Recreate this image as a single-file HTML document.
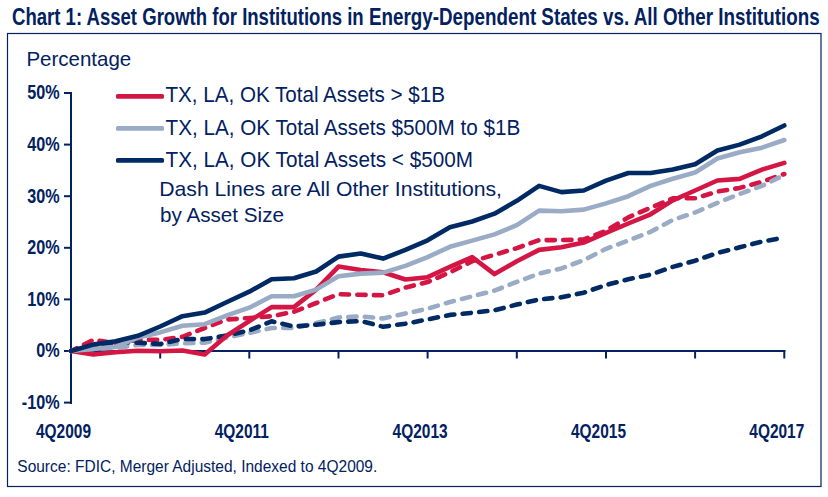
<!DOCTYPE html>
<html><head><meta charset="utf-8">
<style>
html,body{margin:0;padding:0;background:#fff;}
body{width:828px;height:497px;overflow:hidden;position:relative;}
svg{position:absolute;left:0;top:0;}
text{font-family:"Liberation Sans",sans-serif;fill:#022161;}
.cb{font-weight:bold;font-size:20.3px;}
.t{font-weight:bold;font-size:23.6px;}
.r{font-size:21.4px;}
.d{font-size:20.9px;}
.p{font-size:20.8px;}
.s{font-size:15.8px;}
</style></head><body>
<svg width="828" height="497" viewBox="0 0 828 497">
<text x="12" y="25" class="t" textLength="351.7" lengthAdjust="spacingAndGlyphs">Chart 1: Asset Growth for Institutions in</text><text x="369" y="25" class="t" textLength="450.6" lengthAdjust="spacingAndGlyphs">Energy-Dependent States vs. All Other Institutions</text>
<rect x="7.5" y="33.5" width="813.5" height="453" fill="none" stroke="#022161" stroke-width="1.2"/>
<text x="26.4" y="65.6" class="p" textLength="104.8" lengthAdjust="spacingAndGlyphs">Percentage</text>

<g stroke="#022161" stroke-width="2" fill="none">
<line x1="71" y1="92" x2="71" y2="404"/>
<line x1="70" y1="351" x2="785.3" y2="351"/>
<line x1="160.2" y1="350" x2="160.2" y2="358.5"/><line x1="249.3" y1="350" x2="249.3" y2="358.5"/><line x1="338.5" y1="350" x2="338.5" y2="358.5"/><line x1="427.6" y1="350" x2="427.6" y2="358.5"/><line x1="516.8" y1="350" x2="516.8" y2="358.5"/><line x1="606.0" y1="350" x2="606.0" y2="358.5"/><line x1="695.1" y1="350" x2="695.1" y2="358.5"/><line x1="784.3" y1="350" x2="784.3" y2="358.5"/><line x1="64" y1="402.6" x2="72" y2="402.6"/><line x1="64" y1="351.0" x2="72" y2="351.0"/><line x1="64" y1="299.4" x2="72" y2="299.4"/><line x1="64" y1="247.8" x2="72" y2="247.8"/><line x1="64" y1="196.2" x2="72" y2="196.2"/><line x1="64" y1="144.6" x2="72" y2="144.6"/><line x1="64" y1="93.0" x2="72" y2="93.0"/>
</g>
<text x="59.6" y="409.1" text-anchor="end" class="cb" transform="translate(59.6 0) scale(0.797 1) translate(-59.6 0)">-10%</text><text x="59.6" y="357.5" text-anchor="end" class="cb" transform="translate(59.6 0) scale(0.797 1) translate(-59.6 0)">0%</text><text x="59.6" y="305.9" text-anchor="end" class="cb" transform="translate(59.6 0) scale(0.797 1) translate(-59.6 0)">10%</text><text x="59.6" y="254.3" text-anchor="end" class="cb" transform="translate(59.6 0) scale(0.797 1) translate(-59.6 0)">20%</text><text x="59.6" y="202.7" text-anchor="end" class="cb" transform="translate(59.6 0) scale(0.797 1) translate(-59.6 0)">30%</text><text x="59.6" y="151.1" text-anchor="end" class="cb" transform="translate(59.6 0) scale(0.797 1) translate(-59.6 0)">40%</text><text x="59.6" y="99.5" text-anchor="end" class="cb" transform="translate(59.6 0) scale(0.797 1) translate(-59.6 0)">50%</text>
<text x="63.5" y="437.8" text-anchor="middle" class="cb" transform="translate(63.5 0) scale(0.762 1) translate(-63.5 0)">4Q2009</text><text x="241.8" y="437.8" text-anchor="middle" class="cb" transform="translate(241.8 0) scale(0.762 1) translate(-241.8 0)">4Q2011</text><text x="420.1" y="437.8" text-anchor="middle" class="cb" transform="translate(420.1 0) scale(0.762 1) translate(-420.1 0)">4Q2013</text><text x="598.5" y="437.8" text-anchor="middle" class="cb" transform="translate(598.5 0) scale(0.762 1) translate(-598.5 0)">4Q2015</text><text x="776.8" y="437.8" text-anchor="middle" class="cb" transform="translate(776.8 0) scale(0.762 1) translate(-776.8 0)">4Q2017</text>

<g fill="none" stroke-width="4.6" stroke-linejoin="round" stroke-linecap="round">
<polyline points="71.0,351.0 93.3,339.9 115.6,343.3 137.9,339.9 160.2,339.9 182.5,336.8 204.7,328.0 227.0,319.5 249.3,318.0 271.6,316.2 293.9,311.8 316.2,303.0 338.5,294.2 360.8,294.8 383.1,295.3 405.4,287.5 427.6,282.1 449.9,272.3 472.2,261.2 494.5,254.8 516.8,248.1 539.1,240.1 561.4,240.1 583.7,239.5 606.0,230.8 628.3,217.4 650.6,207.6 672.8,198.3 695.1,198.3 717.4,191.6 739.7,187.9 762.0,181.8 784.3,174.0" stroke="#d41644" stroke-dasharray="8.3 8.3" stroke-dashoffset="2"/>
<polyline points="71.0,351.0 93.3,348.9 115.6,347.9 137.9,345.0 160.2,345.0 182.5,343.3 204.7,342.7 227.0,337.6 249.3,332.9 271.6,328.0 293.9,328.0 316.2,323.1 338.5,317.5 360.8,316.4 383.1,318.5 405.4,313.5 427.6,308.7 449.9,302.0 472.2,296.3 494.5,290.6 516.8,281.9 539.1,273.6 561.4,268.4 583.7,260.2 606.0,248.8 628.3,240.6 650.6,231.8 672.8,219.9 695.1,212.5 717.4,202.9 739.7,193.9 762.0,185.9 784.3,175.0" stroke="#9aabc6" stroke-dasharray="8.3 8.3" stroke-dashoffset="1.7"/>
<polyline points="71.0,351.0 93.3,346.9 115.6,342.2 137.9,342.7 160.2,344.0 182.5,338.9 204.7,339.1 227.0,335.5 249.3,330.4 271.6,321.3 293.9,326.5 316.2,324.7 338.5,322.1 360.8,321.1 383.1,326.7 405.4,323.7 427.6,319.5 449.9,314.9 472.2,312.8 494.5,310.2 516.8,304.6 539.1,299.4 561.4,297.3 583.7,292.7 606.0,285.0 628.3,279.3 650.6,274.6 672.8,266.9 695.1,260.7 717.4,253.0 739.7,247.3 762.0,241.6 784.3,237.5" stroke="#002a64" stroke-dasharray="8.3 8.3"/>
<polyline points="71.0,351.0 93.3,354.4 115.6,352.3 137.9,350.7 160.2,351.3 182.5,350.5 204.7,354.4 227.0,335.5 249.3,321.1 271.6,307.1 293.9,307.1 316.2,289.6 338.5,266.6 360.8,270.0 383.1,272.3 405.4,279.5 427.6,277.2 449.9,266.9 472.2,257.1 494.5,274.1 516.8,261.2 539.1,249.9 561.4,247.3 583.7,242.6 606.0,232.8 628.3,223.5 650.6,214.3 672.8,200.3 695.1,190.5 717.4,180.5 739.7,178.9 762.0,169.6 784.3,162.9" stroke="#d41644"/>
<polyline points="71.0,351.0 93.3,348.9 115.6,346.9 137.9,337.6 160.2,332.4 182.5,325.7 204.7,324.2 227.0,315.4 249.3,307.7 271.6,296.3 293.9,296.3 316.2,289.6 338.5,276.2 360.8,273.6 383.1,272.6 405.4,265.9 427.6,257.1 449.9,246.8 472.2,240.6 494.5,234.4 516.8,225.1 539.1,210.6 561.4,211.2 583.7,209.6 606.0,203.4 628.3,196.2 650.6,185.9 672.8,178.7 695.1,172.5 717.4,158.5 739.7,152.3 762.0,147.7 784.3,140.0" stroke="#9aabc6"/>
<polyline points="71.0,351.0 93.3,344.6 115.6,341.2 137.9,335.8 160.2,326.5 182.5,316.2 204.7,312.6 227.0,302.0 249.3,291.7 271.6,279.3 293.9,278.2 316.2,271.5 338.5,256.6 360.8,253.5 383.1,258.6 405.4,249.9 427.6,240.3 449.9,227.2 472.2,221.5 494.5,213.7 516.8,200.8 539.1,185.9 561.4,192.1 583.7,190.5 606.0,180.7 628.3,173.0 650.6,173.0 672.8,169.4 695.1,164.2 717.4,150.5 739.7,144.6 762.0,136.3 784.3,125.5" stroke="#002a64"/>
</g>
<rect x="116" y="93.95" width="48" height="4.9" rx="1.6" fill="#d41644"/>
<rect x="116" y="125.95" width="48" height="4.9" rx="1.6" fill="#9aabc6"/>
<rect x="116" y="157.95" width="48" height="4.9" rx="1.6" fill="#002a64"/>
<text x="165.5" y="101.8" class="r" textLength="279.5" lengthAdjust="spacingAndGlyphs">TX, LA, OK Total Assets &gt; $1B</text>
<text x="165.5" y="135.0" class="r" textLength="354.7" lengthAdjust="spacingAndGlyphs">TX, LA, OK Total Assets $500M to $1B</text>
<text x="165.5" y="166.5" class="r" textLength="307.5" lengthAdjust="spacingAndGlyphs">TX, LA, OK Total Assets &lt; $500M</text>
<text x="159.2" y="195.8" class="d" textLength="342.8" lengthAdjust="spacingAndGlyphs">Dash Lines are All Other Institutions,</text>
<text x="160" y="222.3" class="d" textLength="124" lengthAdjust="spacingAndGlyphs">by Asset Size</text>
<text x="17.3" y="471.9" class="s" textLength="360" lengthAdjust="spacingAndGlyphs">Source: FDIC, Merger Adjusted, Indexed to 4Q2009.</text>
</svg>
</body></html>
